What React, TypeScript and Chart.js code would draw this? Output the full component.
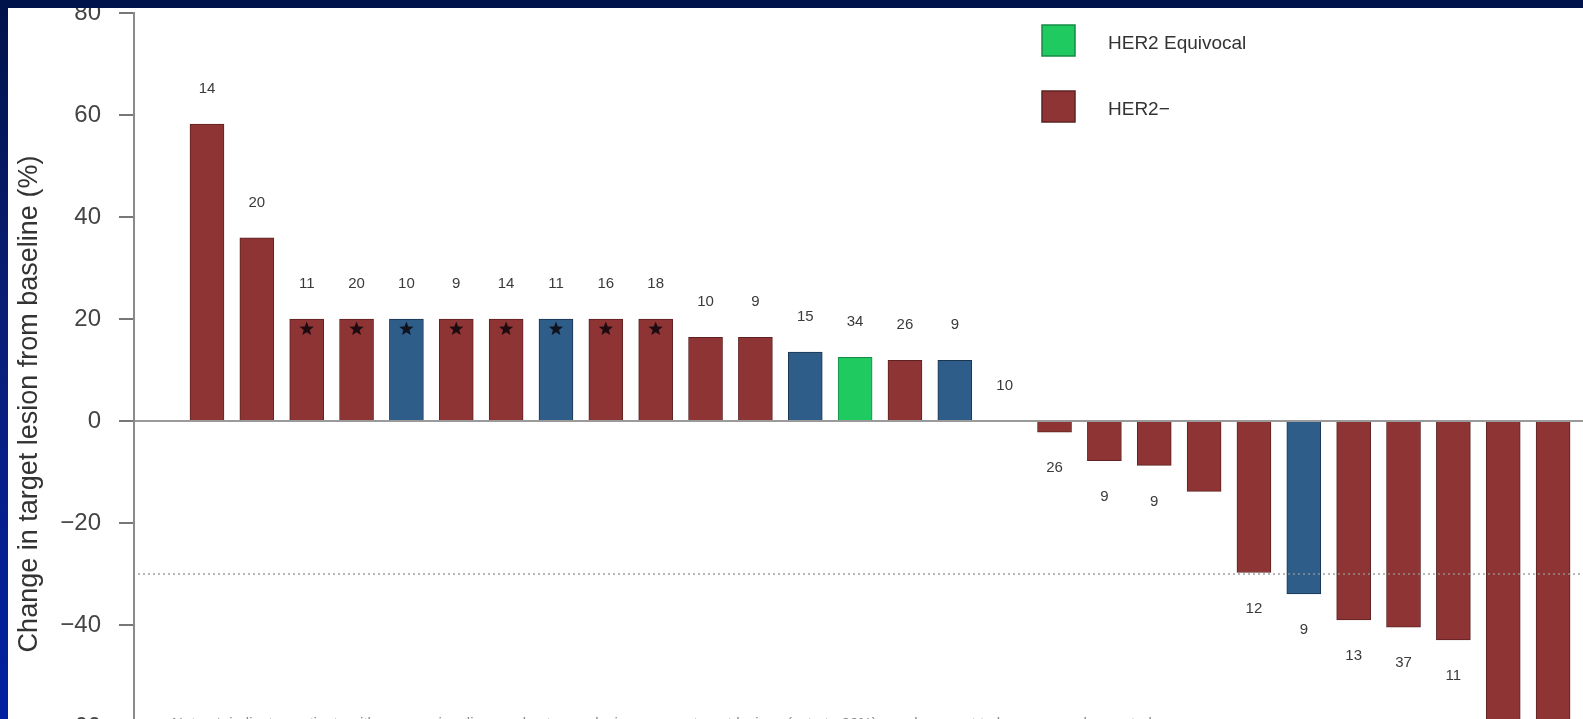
import React, { useEffect, useRef } from "react";
import { Chart, registerables } from "chart.js";

Chart.register(...registerables);

// ---- Data ----
const patientIndex = [0, 1, 2, 3, 4, 5, 6, 7, 8, 9, 10, 11, 12, 13, 14, 15, 16, 17, 18, 19, 20, 21, 22, 23, 24, 25, 26, 27];
const changeFromBaseline = [58.2, 35.9, 20, 20, 20, 20, 20, 20, 20, 20, 16.4, 16.4, 13.5, 12.5, 11.9, 11.9, 0, -2.2, -7.8, -8.7, -13.8, -29.7, -33.9, -39.0, -40.4, -42.9, -70, -72];
const her2Status = ["neg", "neg", "neg", "neg", "pos", "neg", "neg", "pos", "neg", "neg", "neg", "neg", "pos", "equiv", "neg", "pos", "pos", "neg", "neg", "neg", "neg", "neg", "pos", "neg", "neg", "neg", "neg", "neg"];
const weeksOnStudy: (number | null)[] = [14, 20, 11, 20, 10, 9, 14, 11, 16, 18, 10, 9, 15, 34, 26, 9, 10, 26, 9, 9, null, 12, 9, 13, 37, 11, null, null];
const progressionStar = [0, 0, 1, 1, 1, 1, 1, 1, 1, 1, 0, 0, 0, 0, 0, 0, 0, 0, 0, 0, 0, 0, 0, 0, 0, 0, 0, 0];
const yTicks = [-60, -40, -20, 0, 20, 40, 60, 80];
const thresholdLine = -30;
const legendLabels = ["HER2 Equivocal", "HER2\u2212"];
const legendKeys = ["equiv", "neg"];
const yTitle = "Change in target lesion from baseline (%)";
const noteText =
  "Note: \u2605 indicates patients with progressive disease due to new lesions or non-target lesions (set at +20%); numbers next to bars are weeks on study";

const fillColors: Record<string, string> = { neg: "#8e3434", pos: "#2f5d8a", equiv: "#1fcb60" };
const edgeColors: Record<string, string> = { neg: "#5e2222", pos: "#1a3550", equiv: "#168a44" };

const FONT = "'Liberation Sans', Arial, Helvetica, sans-serif";
const SHIFT = 18; // canvas is shifted up by this many px on the page

function drawStar(ctx: CanvasRenderingContext2D, cx: number, cy: number, ro: number, ri: number) {
  ctx.beginPath();
  for (let k = 0; k < 10; k++) {
    const r = k % 2 === 0 ? ro : ri;
    const a = -Math.PI / 2 + (k * Math.PI) / 5;
    const px = cx + r * Math.cos(a);
    const py = cy + r * Math.sin(a);
    if (k === 0) ctx.moveTo(px, py);
    else ctx.lineTo(px, py);
  }
  ctx.closePath();
  ctx.fill();
}

const overlayPlugin = {
  id: "overlayPlugin",
  afterDatasetsDraw(chart: any) {
    const { ctx, chartArea, scales } = chart;
    const y = scales.y;
    ctx.save();
    ctx.strokeStyle = "rgba(150,150,150,0.9)";
    ctx.lineWidth = 1.5;
    ctx.setLineDash([2, 3]);
    const ty = y.getPixelForValue(thresholdLine);
    ctx.beginPath();
    ctx.moveTo(chartArea.left + 4, ty);
    ctx.lineTo(chartArea.right, ty);
    ctx.stroke();
    ctx.restore();

    const meta = chart.getDatasetMeta(0);
    ctx.save();
    meta.data.forEach((bar: any, i: number) => {
      const p = bar.getProps(["x", "y", "base"], true);
      const v = changeFromBaseline[i];
      if (progressionStar[i]) {
        ctx.fillStyle = "rgba(10,5,10,0.85)";
        drawStar(ctx, p.x, p.y + 10, 7.5, 3.2);
      }
      const w = weeksOnStudy[i];
      if (w !== null && w !== undefined) {
        ctx.fillStyle = "#3a3a3a";
        ctx.font = `15px ${FONT}`;
        ctx.textAlign = "center";
        ctx.textBaseline = "middle";
        const ly = v >= 0 ? p.y - 35 : p.y + 36;
        ctx.fillText(String(w), p.x, ly);
      }
    });
    ctx.restore();
  },
  afterDraw(chart: any) {
    const { ctx } = chart;
    ctx.save();
    ctx.translate(30, 404 + SHIFT);
    ctx.rotate(-Math.PI / 2);
    ctx.fillStyle = "#333";
    ctx.font = `27px ${FONT}`;
    ctx.textAlign = "center";
    ctx.textBaseline = "middle";
    ctx.fillText(yTitle, 0, 0);
    ctx.restore();

    ctx.save();
    legendLabels.forEach((lab, k) => {
      const top = 25 + k * 66 + SHIFT;
      ctx.fillStyle = fillColors[legendKeys[k]];
      ctx.fillRect(1042, top, 33, 31);
      ctx.strokeStyle = edgeColors[legendKeys[k]];
      ctx.lineWidth = 1.5;
      ctx.strokeRect(1042, top, 33, 31);
      ctx.fillStyle = "#333";
      ctx.font = `19px ${FONT}`;
      ctx.textAlign = "left";
      ctx.textBaseline = "middle";
      ctx.fillText(lab, 1108, top + 19);
    });
    ctx.restore();

    ctx.save();
    ctx.fillStyle = "#888";
    ctx.font = `15px ${FONT}`;
    ctx.textAlign = "left";
    ctx.textBaseline = "alphabetic";
    ctx.fillText(noteText, 172, 728 + SHIFT);
    ctx.restore();
  },
};

export default function App() {
  const canvasRef = useRef<HTMLCanvasElement | null>(null);

  useEffect(() => {
    if (!canvasRef.current) return;
    const chart = new Chart(canvasRef.current, {
      type: "bar",
      data: {
        datasets: [
          {
            label: "Change",
            data: patientIndex.map((i) => ({ x: i, y: changeFromBaseline[i] })),
            backgroundColor: her2Status.map((s) => fillColors[s]),
            borderColor: her2Status.map((s) => edgeColors[s]),
            borderWidth: 1,
            barThickness: 34,
          } as any,
        ],
      },
      options: {
        responsive: false,
        animation: false,
        devicePixelRatio: 1,
        layout: { padding: { top: 0, left: 0, right: 0, bottom: 20 } },
        plugins: { legend: { display: false }, tooltip: { enabled: false } },
        scales: {
          x: {
            type: "linear",
            min: -1.464,
            max: 27.6,
            offset: false,
            bounds: "data",
            grace: 0,
            display: false,
          },
          y: {
            min: -60,
            max: 80,
            afterFit: (scale: any) => {
              scale.width = 134;
            },
            afterBuildTicks: (scale: any) => {
              scale.ticks = yTicks.map((v) => ({ value: v }));
            },
            ticks: {
              padding: 18,
              color: "#444",
              font: { family: FONT, size: 24, lineHeight: 1.08 },
              callback: (v: any) => String(v).replace("-", "\u2212"),
            },
            border: { display: true, color: "#8a8a8a", width: 2 },
            grid: {
              drawOnChartArea: true,
              color: (ctx: any) => (ctx.tick && ctx.tick.value === 0 ? "#9a9a9a" : "rgba(0,0,0,0)"),
              lineWidth: 2,
              tickColor: "#777",
              tickLength: 15,
              tickWidth: 2,
            },
          },
        },
      },
      plugins: [overlayPlugin],
    });
    return () => chart.destroy();
  }, []);

  return (
    <div
      style={{
        position: "absolute",
        top: 0,
        left: 0,
        width: 1583,
        height: 719,
        overflow: "hidden",
        background: "#ffffff",
      }}
    >
      <canvas ref={canvasRef} width={1583} height={776} style={{ position: "absolute", top: -SHIFT, left: 0 }} />
      <div style={{ position: "absolute", top: 0, left: 0, width: 1583, height: 8, background: "#00134a" }} />
      <div
        style={{
          position: "absolute",
          top: 0,
          left: 0,
          width: 8,
          height: 719,
          background: "linear-gradient(#00134a, #0a1e78 45%, #0022a2)",
        }}
      />
    </div>
  );
}
